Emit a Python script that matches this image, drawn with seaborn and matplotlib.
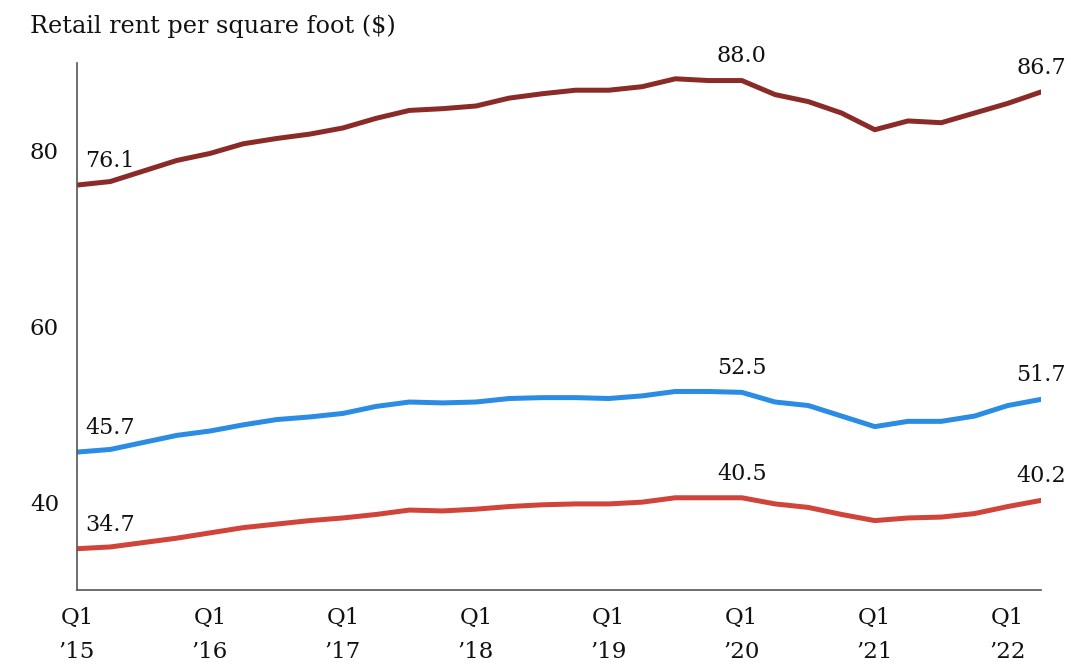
import numpy as np
import pandas as pd
import matplotlib.pyplot as plt
import seaborn as sns

# Quarterly retail rent per square foot, Q1 2015 - Q2 2022
quarters = [f"Q{q} {y}" for y in range(2015, 2023) for q in range(1, 5)][:30]

rent_high = [76.1, 76.5, 77.7, 78.9, 79.7, 80.8, 81.4, 81.9, 82.6, 83.7,
             84.6, 84.8, 85.1, 86.0, 86.5, 86.9, 86.9, 87.3, 88.2, 88.0,
             88.0, 86.4, 85.6, 84.3, 82.4, 83.4, 83.2, 84.3, 85.4, 86.7]
rent_mid = [45.7, 46.0, 46.8, 47.6, 48.1, 48.8, 49.4, 49.7, 50.1, 50.9,
            51.4, 51.3, 51.4, 51.8, 51.9, 51.9, 51.8, 52.1, 52.6, 52.6,
            52.5, 51.4, 51.0, 49.8, 48.6, 49.2, 49.2, 49.8, 51.0, 51.7]
rent_low = [34.7, 34.9, 35.4, 35.9, 36.5, 37.1, 37.5, 37.9, 38.2, 38.6,
            39.1, 39.0, 39.2, 39.5, 39.7, 39.8, 39.8, 40.0, 40.5, 40.5,
            40.5, 39.8, 39.4, 38.6, 37.9, 38.2, 38.3, 38.7, 39.5, 40.2]

series_names = ["high", "mid", "low"]
series_colors = ["#8B2B27", "#2B8CE3", "#D0443A"]

tick_pos = [0, 4, 8, 12, 16, 20, 24, 28]
tick_labels = ["Q1\n\u201915", "Q1\n\u201916", "Q1\n\u201917", "Q1\n\u201918",
               "Q1\n\u201919", "Q1\n\u201920", "Q1\n\u201921", "Q1\n\u201922"]

label_idx = [0, 20, 29]

sns.set_style("white")
plt.rcParams["font.family"] = ["DejaVu Serif"]

df = pd.DataFrame({
    "t": list(range(len(quarters))) * 3,
    "rent": rent_high + rent_mid + rent_low,
    "series": sum([[n] * len(quarters) for n in series_names], []),
})

fig = plt.figure(figsize=(10.71, 6.65), dpi=100)
ax = fig.add_axes([0.0719, 0.1128, 0.9001, 0.7925])

sns.lineplot(data=df, x="t", y="rent", hue="series", palette=series_colors,
             linewidth=3.6, legend=False, ax=ax)

ax.set_xlim(0, len(quarters) - 1)
ax.set_ylim(30, 90)
ax.set_yticks([40, 60, 80])
ax.set_xticks(tick_pos)
ax.set_xticklabels(tick_labels, linespacing=1.7)
ax.set_xlabel("")
ax.set_ylabel("")
ax.tick_params(axis="both", length=0, labelsize=16.5, colors="#111111")
ax.tick_params(axis="y", pad=13)
ax.tick_params(axis="x", pad=12)

for side in ["top", "right"]:
    ax.spines[side].set_visible(False)
for side in ["left", "bottom"]:
    ax.spines[side].set_color("#555555")
    ax.spines[side].set_linewidth(1.2)

# value labels at first, Q1 '20 and last points
for vals in [rent_high, rent_mid, rent_low]:
    for i in label_idx:
        ha = "left" if i == 0 else "center"
        dx = 6 if i == 0 else 0
        ax.annotate(f"{vals[i]:.1f}", (i, vals[i]), xytext=(dx, 13),
                    textcoords="offset points", ha=ha, va="baseline",
                    fontsize=16, color="#111111", annotation_clip=False)

fig.text(30 / 1071, 1 - 26 / 665, "Retail rent per square foot ($)",
         ha="left", va="center", fontsize=17.2, color="#111111")

fig.savefig("out.png", dpi=100)
